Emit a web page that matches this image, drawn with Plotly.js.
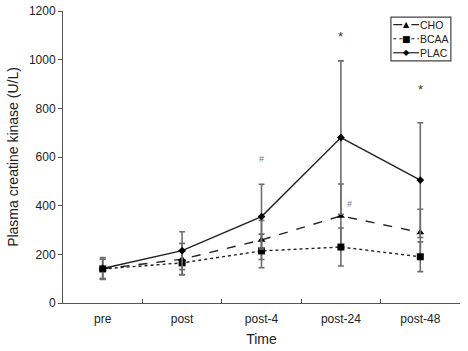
<!DOCTYPE html>
<html><head><meta charset="utf-8">
<script src="https://cdn.plot.ly/plotly-3.0.1.min.js"></script>
<style>body{margin:0;background:#fff}#c{width:468px;height:351px}</style>
</head><body><div id="c"></div>
<script>
const categories = ["pre","post","post-4","post-24","post-48"];
const choMean  = [140, 180, 259, 358, 290];
const choSD    = [40, 65, 80, 131, 95];
const bcaaMean = [140, 165, 214, 230, 190];
const bcaaSD   = [40, 48, 69, 78, 61];
const placMean = [142, 215, 355, 680, 505];
const placSD   = [45, 78, 133, 315, 236];
const seriesNames = ["CHO", "BCAA", "PLAC"];
const sigLabels = ["#", "*", "#", "*"];
const sigX = ["post-4", "post-24", "post-24", "post-48"];
const sigY = [590, 1095, 405, 878];
const sigXShift = [0, 0, 9, 0];

// legend styling (not data)
const legDash = ['dash', 'dot', 'solid'];
const legGlyph = ['\u25B2', '\u25A0', '\u25C6'];
const legGlyphSize = [8, 9, 8];
const legY = [0.953, 0.905, 0.857];

const ebar = (arr) => ({type:'data', array:arr, visible:true, color:'#6e6e6e', thickness:1.6, width:3});
const traces = [
  {x:categories, y:choMean, name:seriesNames[0], mode:'lines+markers', error_y:ebar(choSD),
   line:{color:'#222', dash:'dash', width:1.4}, marker:{symbol:'triangle-up', size:7, color:'#000'}},
  {x:categories, y:bcaaMean, name:seriesNames[1], mode:'lines+markers', error_y:ebar(bcaaSD),
   line:{color:'#222', dash:'dot', width:1.4}, marker:{symbol:'square', size:7, color:'#000'}},
  {x:categories, y:placMean, name:seriesNames[2], mode:'lines+markers', error_y:ebar(placSD),
   line:{color:'#222', width:1.4}, marker:{symbol:'diamond', size:6, color:'#000'}}
];
const annotations = sigLabels.map((t,i)=>({x:sigX[i], y:sigY[i], text:t, showarrow:false, xshift:sigXShift[i],
  font:{family:'Liberation Sans, Arial', size: t==='*'?13:9, color: t==='*'?'#333':'#777'}}));
const shapes = [{type:'rect', xref:'paper', yref:'paper', x0:0.826, x1:0.977, y0:0.829, y1:0.979,
  line:{color:'#444', width:1.2}, fillcolor:'#fff', layer:'above'}];
seriesNames.forEach((n,i)=>{
  shapes.push({type:'line', xref:'paper', yref:'paper', x0:0.832, x1:0.897, y0:legY[i], y1:legY[i],
    line:{color:'#222', width:1.2, dash:legDash[i]}, layer:'above'});
  annotations.push({xref:'paper', yref:'paper', x:0.864, y:legY[i], text:legGlyph[i], showarrow:false,
    xanchor:'center', yanchor:'middle', font:{family:'DejaVu Sans', size:legGlyphSize[i], color:'#000'}});
  annotations.push({xref:'paper', yref:'paper', x:0.9, y:legY[i], text:n, showarrow:false,
    xanchor:'left', yanchor:'middle', xshift:-2, font:{family:'Liberation Sans, Arial', size:10.5, color:'#222'}});
});
const layout = {
  width:468, height:351,
  margin:{l:63, r:8, t:11, b:48},
  paper_bgcolor:'#fff', plot_bgcolor:'#fff',
  font:{family:'Liberation Sans, Arial, sans-serif', color:'#222', size:12},
  showlegend:false,
  xaxis:{type:'category', range:[-0.5,4.5], showline:true, linecolor:'#555', linewidth:1,
    ticks:'inside', tickson:'boundaries', ticklen:4, tickcolor:'#555', showgrid:false, zeroline:false,
    ticklabelstandoff:5,
    title:{text:'Time', font:{size:14}, standoff:8}, tickfont:{size:12}},
  yaxis:{range:[0,1200], dtick:200, showline:true, linecolor:'#555', linewidth:1, ticks:'outside', ticklen:4,
    tickcolor:'#555', showgrid:false, zeroline:false,
    title:{text:'Plasma creatine kinase (U/L)', font:{size:14}, standoff:6}, tickfont:{size:12}},
  annotations:annotations, shapes:shapes
};
Plotly.newPlot('c', traces, layout, {displayModeBar:false, staticPlot:true});
</script></body></html>
